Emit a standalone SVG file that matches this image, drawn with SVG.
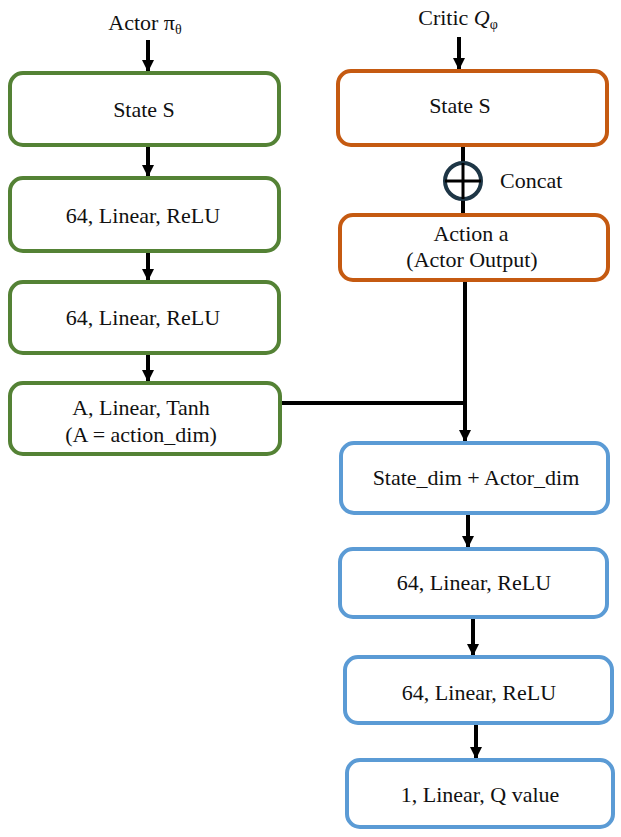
<svg xmlns="http://www.w3.org/2000/svg" width="621" height="837" viewBox="0 0 621 837">
<style>
  .t{font-family:"Liberation Serif","Times New Roman",serif;font-size:22px;fill:#111;text-anchor:middle;}
  .g{fill:#fff;stroke:#548235;stroke-width:4;}
  .o{fill:#fff;stroke:#C55A11;stroke-width:4;}
  .b{fill:#fff;stroke:#5B9BD5;stroke-width:4;}
  .c{stroke:#000;stroke-width:4;fill:none;}
</style>
<defs>
  <marker id="ah" markerWidth="3" markerHeight="3" refX="3" refY="1.5" orient="auto" markerUnits="strokeWidth">
    <path d="M0,0 L3,1.5 L0,3 Z" fill="#000"/>
  </marker>
</defs>
<text class="t" x="145" y="30">Actor π<tspan font-size="14" dy="4">θ</tspan></text>
<text class="t" x="458" y="25">Critic <tspan font-style="italic">Q</tspan><tspan font-size="14" dy="4">φ</tspan></text>
<text class="t" x="500" y="188" style="text-anchor:start">Concat</text>

<g id="connectors">
  <line class="c" x1="148" y1="40" x2="148" y2="72" marker-end="url(#ah)"/>
  <line class="c" x1="148" y1="145" x2="148" y2="177" marker-end="url(#ah)"/>
  <line class="c" x1="148" y1="251" x2="148" y2="281" marker-end="url(#ah)"/>
  <line class="c" x1="148" y1="353" x2="148" y2="382" marker-end="url(#ah)"/>
  <line class="c" x1="459" y1="37" x2="459" y2="70" marker-end="url(#ah)"/>
  <line class="c" x1="463" y1="145" x2="463" y2="215"/>
  <line class="c" x1="465" y1="280" x2="465" y2="442" marker-end="url(#ah)"/>
  <line class="c" x1="280" y1="403" x2="467" y2="403"/>
  <line class="c" x1="468" y1="513" x2="468" y2="548" marker-end="url(#ah)"/>
  <line class="c" x1="473" y1="619" x2="473" y2="656" marker-end="url(#ah)"/>
  <line class="c" x1="476" y1="723" x2="476" y2="759" marker-end="url(#ah)"/>
</g>

<g id="concat">
  <circle cx="463" cy="181" r="18" fill="#fff" stroke="#1E3646" stroke-width="4"/>
  <line x1="445" y1="181" x2="481" y2="181" stroke="#000" stroke-width="3"/>
  <line x1="463" y1="163" x2="463" y2="199" stroke="#000" stroke-width="3"/>
</g>

<g id="a1"><rect class="g" x="10" y="73" width="269" height="72" rx="13"/><text class="t" x="144" y="117">State S</text></g>
<g id="a2"><rect class="g" x="10" y="178" width="269" height="73" rx="13"/><text class="t" x="143" y="223">64, Linear, ReLU</text></g>
<g id="a3"><rect class="g" x="10" y="282" width="269" height="71" rx="13"/><text class="t" x="143" y="325">64, Linear, ReLU</text></g>
<g id="a4"><rect class="g" x="10" y="383" width="270" height="71" rx="13"/><text class="t" x="141" y="415">A, Linear, Tanh</text><text class="t" x="141" y="442">(A = action_dim)</text></g>

<g id="c1"><rect class="o" x="338" y="71" width="269" height="74" rx="13"/><text class="t" x="460" y="113">State S</text></g>
<g id="c2"><rect class="o" x="340" y="215" width="268" height="65" rx="13"/><text class="t" x="471" y="241">Action a</text><text class="t" x="472" y="267">(Actor Output)</text></g>

<g id="q1"><rect class="b" x="341" y="443" width="267" height="70" rx="13"/><text class="t" x="476" y="485">State_dim + Actor_dim</text></g>
<g id="q2"><rect class="b" x="340" y="549" width="267" height="68" rx="13"/><text class="t" x="474" y="590">64, Linear, ReLU</text></g>
<g id="q3"><rect class="b" x="345" y="657" width="267" height="66" rx="13"/><text class="t" x="479" y="700">64, Linear, ReLU</text></g>
<g id="q4"><rect class="b" x="347" y="760" width="266" height="67" rx="13"/><text class="t" x="480" y="802">1, Linear, Q value</text></g>
</svg>
